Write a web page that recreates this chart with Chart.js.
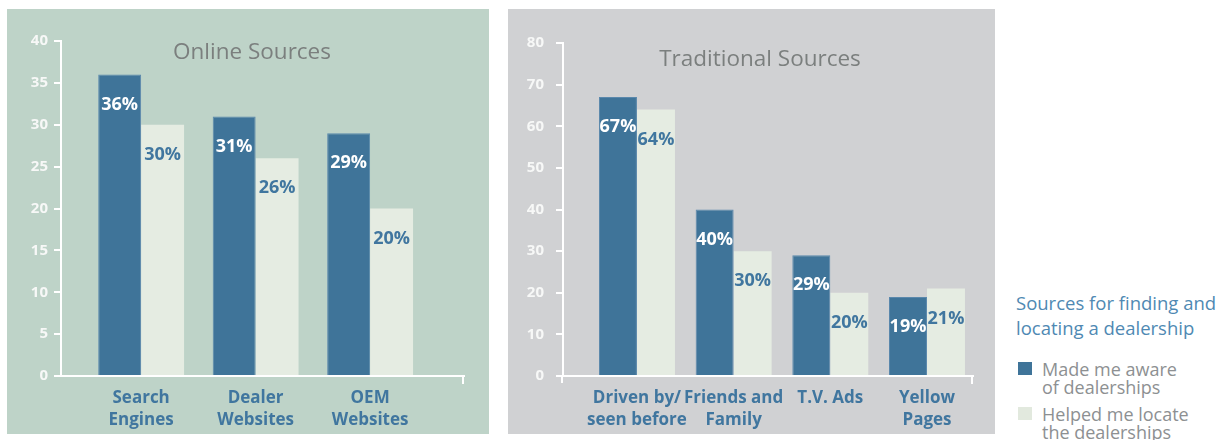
<!DOCTYPE html>
<html>
<head>
<meta charset="utf-8">
<script src="https://cdn.jsdelivr.net/npm/chart.js@4/dist/chart.umd.min.js"></script>
<style>
  body { margin: 0; background: #fff; font-family: 'Open Sans', sans-serif; }
  #page { position: relative; width: 1227px; height: 440px; overflow: hidden; }
  .panel { position: absolute; top: 9px; height: 425px; }
  #onlinePanel { left: 7px; width: 482px; background: #bed3c8; }
  #traditionalPanel { left: 508px; width: 487px; background: #d0d1d3; }
  .panel canvas { display: block; }
  #legend { position: absolute; left: 1016px; top: 290px; width: 215px; }
  #legend .title { color: #4f89b3; font-size: 18.5px; line-height: 25px; white-space: nowrap; }
  #legend .item { position: relative; padding-left: 26px; color: #8d9092; font-size: 18px; line-height: 18px; white-space: nowrap; }
  #legend .swatch { position: absolute; left: 2px; top: 2px; width: 14px; height: 13px; }
</style>
</head>
<body>
<div id="page">
  <div class="panel" id="onlinePanel"><canvas id="onlineChart" width="482" height="425"></canvas></div>
  <div class="panel" id="traditionalPanel"><canvas id="traditionalChart" width="487" height="425"></canvas></div>
  <div id="legend">
    <div class="title">Sources for finding and<br>locating a dealership</div>
    <div class="item" style="margin-top:20px"><span class="swatch" style="background:#3f7499"></span>Made me aware<br>of dealerships</div>
    <div class="item" style="margin-top:9px"><span class="swatch" style="background:#e2e9de"></span>Helped me locate<br>the dealerships</div>
  </div>
</div>
<script>
// Online sources
const onlineCategories = [['Search', 'Engines'], ['Dealer', 'Websites'], ['OEM', 'Websites']];
const onlineAware = [36, 31, 29];
const onlineLocate = [30, 26, 20];
const onlineTicks = [0, 5, 10, 15, 20, 25, 30, 35, 40];

// Traditional sources
const traditionalCategories = [['Driven by/', 'seen before'], ['Friends and', 'Family'], ['T.V. Ads'], ['Yellow', 'Pages']];
const traditionalAware = [67, 40, 29, 19];
const traditionalLocate = [64, 30, 20, 21];
const traditionalTicks = [0, 10, 20, 30, 40, 50, 60, 70, 80];

const seriesNames = ['Made me aware of dealerships', 'Helped me locate the dealerships'];

const darkBlue = '#3f7499';
const paleGreen = '#e5ece2';
const labelBlue = '#40769f';

Chart.defaults.font.family = "'Open Sans', sans-serif";
Chart.defaults.animation = false;

// draws the panel title, the % labels and the little end ticks on the axes
const extrasPlugin = {
  id: 'extras',
  afterDraw(chart, args, opts) {
    const ctx = chart.ctx;
    const area = chart.chartArea;
    ctx.save();

    ctx.strokeStyle = '#ffffff';
    ctx.lineWidth = 2;
    ctx.beginPath();
    ctx.moveTo(area.right - 1, area.bottom);
    ctx.lineTo(area.right - 1, area.bottom + 8);
    if (opts.leftTick) {
      ctx.moveTo(area.left - 1, area.bottom);
      ctx.lineTo(area.left - 1, area.bottom + 7);
    }
    ctx.stroke();

    ctx.fillStyle = '#7b7f7e';
    ctx.font = "22.5px 'Open Sans', sans-serif";
    ctx.textAlign = 'center';
    ctx.textBaseline = 'middle';
    ctx.fillText(opts.title, opts.titleX, opts.titleY);

    ctx.font = "bold 18px 'Open Sans', sans-serif";
    chart.data.datasets.forEach((ds, di) => {
      const meta = chart.getDatasetMeta(di);
      ctx.fillStyle = di === 0 ? '#ffffff' : labelBlue;
      meta.data.forEach((bar, i) => {
        ctx.fillText(ds.data[i].y + '%', bar.x, bar.y + 30);
      });
    });
    ctx.restore();
  }
};

function makeChart(id, cfg) {
  const toPoints = arr => arr.map((v, i) => ({ x: i, y: v }));
  return new Chart(document.getElementById(id), {
    type: 'bar',
    data: {
      datasets: [{
        label: seriesNames[0],
        data: toPoints(cfg.aware),
        backgroundColor: darkBlue,
        borderColor: '#5a88ac',
        borderWidth: 1,
        categoryPercentage: cfg.groupWidth,
        barPercentage: 1
      }, {
        label: seriesNames[1],
        data: toPoints(cfg.locate),
        backgroundColor: paleGreen,
        borderWidth: 0,
        categoryPercentage: cfg.groupWidth,
        barPercentage: 1
      }]
    },
    options: {
      responsive: false,
      layout: { padding: { top: cfg.top, right: cfg.right, bottom: 0, left: 0 } },
      plugins: {
        legend: { display: false },
        tooltip: { enabled: false },
        extras: { title: cfg.title, titleX: cfg.titleX, titleY: cfg.titleY, leftTick: cfg.leftTick }
      },
      scales: {
        x: {
          type: 'linear',
          offset: false,
          min: cfg.xMin,
          max: cfg.xMax,
          afterBuildTicks: scale => {
            scale.ticks = cfg.categories.map((c, i) => ({ value: i }));
          },
          afterFit: scale => { scale.height = 58; },
          grid: { display: false, drawTicks: false },
          border: { color: '#ffffff', width: 2 },
          ticks: {
            autoSkip: false,
            maxRotation: 0,
            padding: 12,
            color: labelBlue,
            font: { size: 17, weight: 'bold', lineHeight: 1.25 },
            callback: value => cfg.categories[value]
          }
        },
        y: {
          min: 0,
          max: cfg.ticks[cfg.ticks.length - 1],
          afterBuildTicks: scale => {
            scale.ticks = cfg.ticks.map(v => ({ value: v }));
          },
          afterFit: scale => { scale.width = cfg.axisLeft; },
          grid: { drawOnChartArea: false, color: '#ffffff', lineWidth: 2, tickLength: 7 },
          border: { color: '#ffffff', width: 2 },
          ticks: {
            padding: cfg.tickPad,
            color: '#f7f8f7',
            font: { size: 15, weight: 'bold' }
          }
        }
      }
    },
    plugins: [extrasPlugin]
  });
}

makeChart('onlineChart', {
  categories: onlineCategories,
  aware: onlineAware,
  locate: onlineLocate,
  ticks: onlineTicks,
  title: 'Online Sources',
  titleX: 245, titleY: 44,
  xMin: -0.70, xMax: 2.82,
  groupWidth: 0.75,
  top: 32, right: 25, axisLeft: 54, tickPad: 6,
  leftTick: false
});

makeChart('traditionalChart', {
  categories: traditionalCategories,
  aware: traditionalAware,
  locate: traditionalLocate,
  ticks: traditionalTicks,
  title: 'Traditional Sources',
  titleX: 252, titleY: 51,
  xMin: -0.765, xMax: 3.476,
  groupWidth: 0.786,
  top: 34, right: 22, axisLeft: 55, tickPad: 12,
  leftTick: true
});
</script>
</body>
</html>
